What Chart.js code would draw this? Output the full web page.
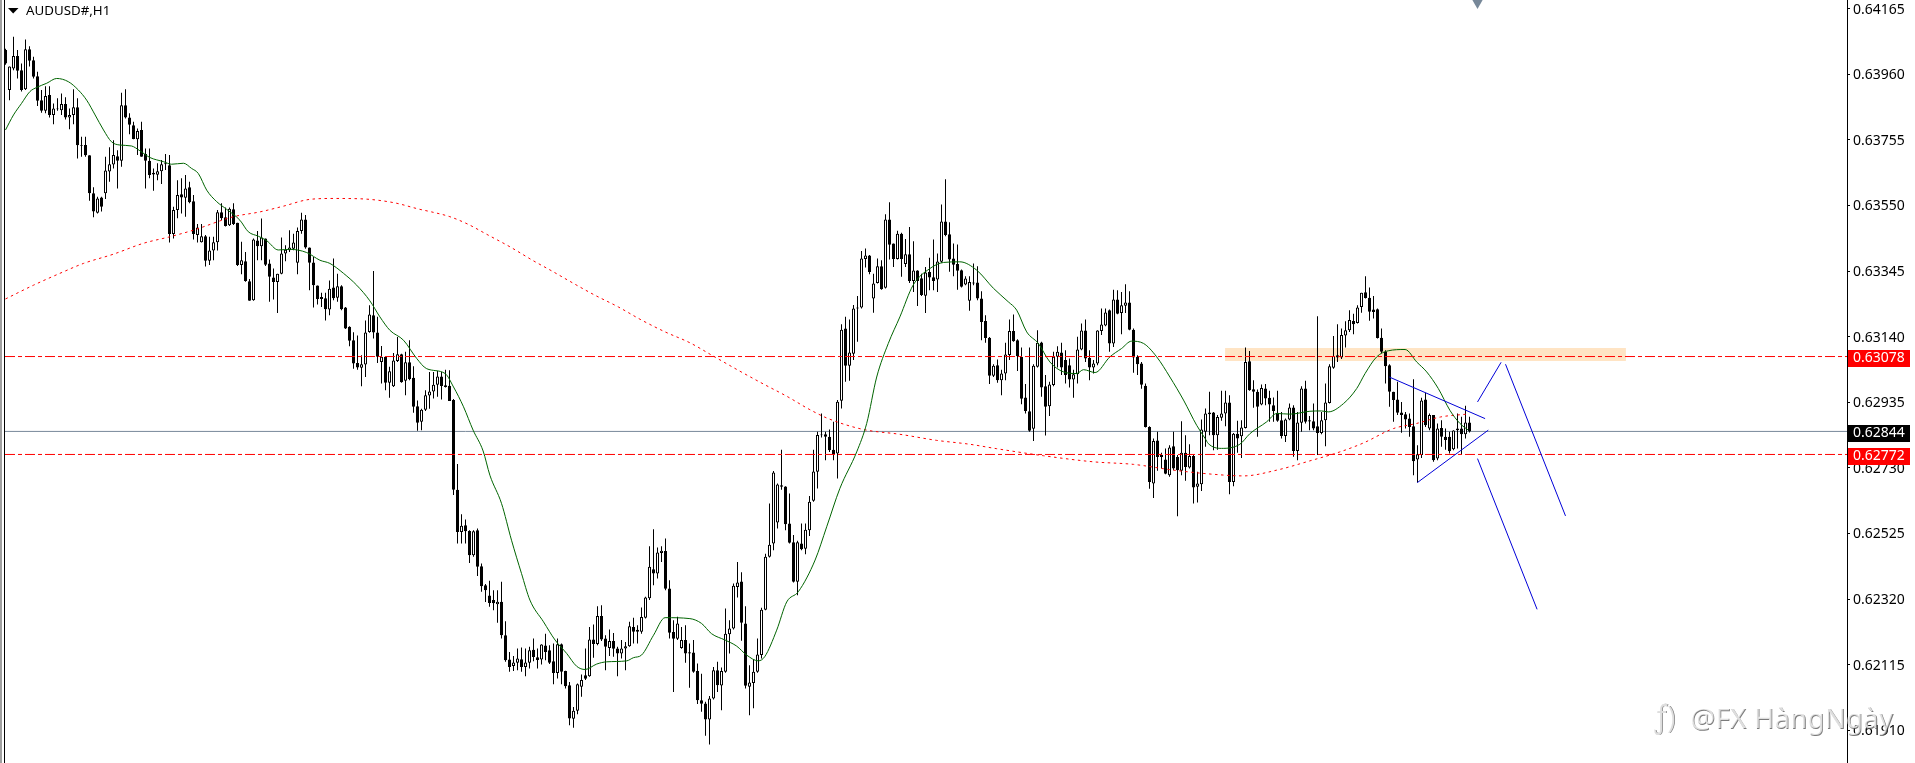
<!DOCTYPE html>
<html><head><meta charset="utf-8">
<style>html,body{margin:0;padding:0;background:#fff;overflow:hidden}canvas{display:block}</style>
<script src="https://cdn.jsdelivr.net/npm/chart.js@4/dist/chart.umd.min.js"></script>
</head><body><canvas id="c" width="1915" height="763" style="width:1915px;height:763px"></canvas>
<script>
// All prices in points (1 point = 0.00001)
const opens=[64036,63911,63978,64017,63973,63913,64038,64004,63954,63879,
63846,63895,63833,63851,63848,63867,63825,63833,63857,63739,
63739,63707,63588,63527,63575,63588,63656,63678,63704,63690,
63863,63825,63801,63757,63786,63711,63690,63652,63646,63657,
63679,63676,63461,63536,63585,63574,63607,63563,63458,63435,
63454,63377,63409,63435,63529,63513,63488,63538,63496,63364,
63376,63313,63254,63441,63423,63447,63369,63325,63311,63337,
63400,63410,63415,63371,63470,63506,63419,63372,63300,63264,
63260,63225,63294,63262,63298,63231,63171,63129,63058,63043,
63053,63155,63207,63153,63061,63077,62996,62985,63064,63085,
63002,63060,63012,62923,62874,62912,62956,62969,62990,63016,
62988,62987,62942,62662,62530,62551,62533,62457,62535,62423,
62363,62331,62317,62304,62312,62207,62131,62111,62121,62132,
62108,62121,62162,62138,62131,62175,62160,62126,62089,62179,
62095,62051,61946,61971,62046,62082,62079,62194,62180,62267,
62197,62167,62189,62166,62150,62166,62173,62233,62224,62218,
62262,62323,62413,62400,62464,62470,62353,62217,62196,62167,
62192,62154,62153,62095,62004,61994,61944,62009,62098,62050,
62093,62210,62228,62358,62375,62244,62046,62058,62093,62145,
62287,62452,62494,62559,62676,62672,62556,62498,62374,62494,
62477,62535,62627,62718,62834,62835,62827,62787,62775,62940,
63166,63049,63087,63228,63231,63383,63394,63259,63308,63360,
63293,63506,63431,63383,63462,63367,63398,63314,63347,63323,
63268,63342,63326,63319,63374,63500,63460,63384,63367,63348,
63303,63252,63309,63309,63259,63189,63137,63018,63051,63004,
63025,63083,63158,63129,63077,62950,62907,62852,63046,63122,
62985,62923,62989,63077,63091,63067,63051,63006,63023,63100,
63159,63074,63044,63056,63158,63175,63223,63119,63256,63214,
63237,63247,63162,63077,63056,62987,62858,62681,62816,62771,
62756,62707,62798,62764,62721,62777,62731,62767,62671,62679,
62843,62903,62903,62832,62887,62900,62934,62686,62837,62829,
62855,63063,62976,62968,62928,62978,62949,62926,62902,62879,
62830,62881,62919,62783,62871,62978,62879,62876,62860,62839,
62879,62933,63043,63082,63075,63144,63160,63189,63183,63233,
63279,63262,63225,63226,63137,63093,63051,62968,62944,62903,
62898,62884,62860,62756,62770,62944,62853,62895,62759,62855,
62827,62827,62788,62853,62853,62835,62872];
const closes=[63994,63984,64017,63971,63911,64038,64002,63952,63877,63846,
63892,63833,63853,63853,63867,63825,63833,63857,63738,63737,
63707,63588,63531,63572,63546,63659,63679,63708,63690,63863,
63825,63802,63758,63783,63702,63690,63645,63647,63657,63679,
63682,63461,63536,63583,63575,63603,63560,63461,63481,63454,
63377,63409,63435,63529,63510,63486,63540,63492,63364,63379,
63314,63252,63444,63423,63450,63365,63327,63311,63337,63400,
63412,63419,63434,63470,63506,63419,63371,63301,63258,63258,
63226,63290,63260,63298,63226,63166,63127,63056,63044,63054,
63153,63209,63153,63077,63077,62996,63032,63066,63085,62998,
63060,63007,62921,62871,62912,62957,62969,62990,63016,62986,
62983,62939,62662,62530,62549,62532,62457,62532,62421,62360,
62348,62308,62307,62312,62207,62129,62108,62122,62134,62108,
62122,62160,62139,62130,62178,62155,62121,62089,62179,62093,
62048,61947,61971,62054,62067,62071,62194,62180,62267,62194,
62171,62189,62165,62150,62166,62173,62235,62218,62218,62264,
62325,62421,62400,62466,62471,62352,62215,62196,62244,62192,
62150,62150,62093,62004,61993,61944,62009,62098,62051,62095,
62212,62228,62362,62372,62246,62049,62059,62093,62147,62287,
62452,62490,62716,62678,62671,62554,62496,62374,62498,62476,
62537,62624,62719,62833,62832,62827,62785,62773,62937,63162,
63049,63091,63228,63231,63384,63394,63342,63306,63360,63288,
63506,63427,63383,63462,63383,63398,63314,63347,63314,63270,
63341,63325,63314,63375,63500,63458,63381,63365,63346,63296,
63322,63311,63306,63259,63186,63136,63018,63049,63004,63025,
63084,63158,63126,63079,62946,62908,62846,63049,63121,62981,
62921,62991,63077,63093,63044,63020,63006,63023,63100,63159,
63072,63044,63056,63159,63178,63216,63119,63256,63212,63238,
63247,63162,63075,63054,62990,62858,62686,62814,62764,62764,
62712,62794,62728,62723,62777,62733,62767,62669,62681,62850,
62900,62898,62832,62889,62900,62934,62686,62837,62822,62856,
63061,62973,62968,62921,62980,62947,62928,62908,62877,62830,
62881,62919,62783,62872,62978,62874,62875,62853,62839,62879,
62934,63048,63080,63075,63145,63160,63192,63179,63231,63277,
63261,63218,63217,63136,63093,63048,62968,62942,62902,62895,
62881,62858,62751,62773,62941,62863,62895,62754,62853,62827,
62817,62782,62847,62848,62835,62872,62844];
const highs=[64040,63984,64077,64036,63994,64069,64048,64015,63968,63911,
63923,63923,63869,63885,63900,63888,63853,63913,63885,63765,
63765,63707,63607,63577,63577,63702,63732,63754,63723,63902,
63913,63838,63812,63791,63812,63728,63728,63666,63682,63692,
63711,63708,63546,63629,63635,63645,63624,63583,63492,63492,
63458,63452,63452,63536,63557,63544,63544,63557,63496,63437,
63405,63320,63447,63470,63509,63447,63381,63353,63337,63450,
63426,63473,63462,63481,63527,63520,63419,63389,63300,63277,
63277,63316,63384,63337,63301,63233,63173,63154,63144,63082,
63191,63238,63345,63202,63111,63077,63046,63089,63139,63087,
63093,63129,63048,62941,62915,62973,63030,63030,63033,63030,
63037,63035,62945,62742,62585,62569,62535,62535,62541,62431,
62367,62377,62348,62348,62374,62251,62155,62142,62166,62169,
62166,62171,62197,62166,62179,62212,62176,62181,62197,62181,
62096,62061,61983,62056,62084,62166,62233,62241,62298,62301,
62207,62225,62214,62171,62192,62186,62249,62262,62238,62294,
62327,62485,62538,62481,62485,62509,62379,62254,62265,62233,
62238,62181,62192,62119,62087,61999,62017,62108,62124,62106,
62291,62254,62369,62436,62404,62298,62113,62131,62197,62293,
62462,62619,62720,62681,62787,62673,62650,62520,62502,62556,
62556,62642,62787,62843,62900,62843,62850,62874,62942,63179,
63202,63194,63239,63267,63408,63416,63395,63337,63384,63379,
63523,63560,63431,63471,63465,63445,63483,63438,63348,63337,
63358,63387,63444,63400,63553,63632,63498,63431,63428,63350,
63329,63329,63369,63360,63282,63207,63139,63054,63069,63037,
63121,63194,63209,63132,63106,62992,63106,63054,63160,63124,
63020,62999,63093,63110,63121,63098,63072,63037,63140,63181,
63194,63098,63067,63160,63228,63228,63225,63287,63285,63280,
63304,63282,63166,63082,63061,62994,62860,62822,62843,62777,
62791,62801,62843,62770,62876,62832,62804,62770,62718,62881,
62916,62968,62905,62895,62971,62971,62957,62839,62877,62879,
63106,63095,63004,62975,62991,62992,62971,62950,62971,62905,
62884,62931,62926,62905,62985,63002,62892,62931,63204,62905,
62994,63054,63142,63179,63166,63188,63223,63212,63238,63277,
63329,63294,63267,63228,63166,63098,63054,62968,62999,62936,
62905,62900,63007,62801,62949,62965,62900,62895,62869,62879,
62853,62843,62848,62900,62890,62924,62890];
const lows=[63990,63879,63973,63947,63906,63911,63984,63947,63861,63840,
63838,63825,63804,63846,63833,63819,63788,63804,63697,63702,
63702,63565,63513,63525,63531,63570,63624,63666,63603,63671,
63822,63773,63757,63708,63702,63603,63635,63596,63629,63617,
63661,63434,63447,63510,63525,63515,63557,63444,63434,63434,
63359,63364,63379,63409,63504,63484,63486,63489,63361,63335,
63312,63252,63252,63379,63379,63361,63249,63256,63214,63335,
63376,63405,63410,63335,63462,63415,63285,63231,63241,63233,
63191,63207,63254,63249,63223,63164,63110,63040,63037,62985,
63014,63152,63134,63058,62994,62973,62949,62983,63061,62996,
62957,63004,62902,62846,62848,62908,62915,62947,62952,62944,
62981,62939,62645,62494,62494,62494,62433,62452,62392,62343,
62311,62296,62285,62246,62197,62124,62093,62095,62098,62093,
62079,62103,62126,62103,62116,62129,62117,62054,62072,62054,
62041,61926,61918,61960,62015,62067,62077,62137,62176,62189,
62098,62142,62140,62079,62134,62098,62171,62181,62181,62212,
62259,62317,62363,62384,62436,62348,62197,62030,62192,62165,
62121,62043,62090,61992,61968,61893,61866,62006,62030,61973,
62090,62150,62225,62325,62190,62041,61957,61979,62090,62134,
62285,62450,62473,62541,62662,62535,62494,62372,62332,62473,
62460,62517,62624,62666,62825,62754,62780,62754,62697,62916,
62999,63002,63067,63124,63228,63356,63335,63215,63306,63287,
63291,63381,63358,63381,63327,63358,63308,63280,63236,63267,
63214,63285,63285,63280,63371,63454,63343,63329,63287,63294,
63301,63221,63301,63254,63129,63121,62992,63014,62996,62957,
63004,63067,63124,63033,62929,62900,62843,62814,63044,62952,
62831,62892,62985,63044,63020,62994,62981,62949,62994,63098,
63061,63004,63025,63051,63145,63173,63093,63108,63210,63148,
63214,63160,63027,63020,62977,62856,62665,62636,62721,62728,
62710,62702,62723,62579,62707,62690,62728,62619,62622,62658,
62796,62832,62785,62787,62877,62860,62648,62673,62777,62761,
62853,62971,62918,62827,62926,62926,62874,62874,62874,62822,
62811,62879,62765,62754,62843,62869,62848,62848,62770,62835,
62798,62931,63040,63061,63070,63106,63155,63148,63181,63215,
63259,63190,63197,63134,63089,62994,62921,62874,62895,62840,
62853,62827,62707,62684,62761,62858,62848,62749,62754,62796,
62787,62775,62785,62791,62770,62822,62841];

const fastMaBars=[0,2,4,6.1,7.8,10.3,12.8,15.7,18.2,20.3,22.4,24.5,26.5,28.6,31.5,33.6,36.1,39.5,41.5,44.5,46.5,48.2,50.3,52.8,55.3,58.6,60.7,63.2,65.3,68.2,71.1,75.3,78.6,81.1,84.5,87.8,91.1,93.6,96.1,99.5,102.8,105.3,109.9,112,114.5,116.9,119.4,121.1,124,126.5,129,131.1,134.5,137.4,140.3,142.8,144.9,147.8,150.3,155.3,157,159,162,164.9,171.1,174,176.5,179.9,182.8,185.3,188.2,189.8,192.8,195.3,198.2,202.4,205.3,208.6,212.8,215.3,217.8,220.7,223.6,226.9,231.1,234.5,238.6,242.8,247,250.7,252.8,255.3,258.2,261.1,264.5,267.8,269.5,272.4,276.1,279,281.5,284.5,287.8,291.1,294.5,297.8,299.9,300.7,304,308.6,311.1,315.3,317.8,321.1,326.1,329,330.7,334.5,337.8,339.9,342.8,345.7,349.9,352.8,355.3,358.2,361.1,363.6,365.7];
const fastMa=[63786,63833,63869,63906,63919,63932,63947,63937,63911,63879,63833,63786,63749,63739,63736,63721,63700,63687,63679,63682,63666,63650,63598,63562,63538,63504,63468,63454,63440,63411,63413,63403,63379,63369,63338,63301,63252,63202,63160,63129,63072,63040,63025,62983,62921,62848,62783,62707,62619,62504,62400,62317,62249,62192,62150,62110,62100,62117,62124,62127,62137,62145,62207,62262,62259,62244,62212,62192,62173,62145,62127,62140,62223,62311,62343,62442,62546,62666,62780,62869,63014,63119,63202,63301,63353,63372,63374,63348,63291,63249,63223,63155,63119,63061,63030,63025,63037,63028,63077,63103,63126,63119,63077,63014,62942,62863,62822,62806,62791,62804,62837,62874,62900,62898,62907,62908,62905,62931,62978,63025,63077,63096,63100,63061,63030,62978,62910,62869,62848];
const slowMaBars=[0,7,13.6,19.5,27,34.5,41,47,57,63.6,69.5,76,82,88.6,97,103.6,106.5,111.1,115.7,120.3,126.1,132,136.5,141.1,147,153.2,159,164.9,171.1,177,183.2,189.5,195.3,201.1,205.7,214.5,223.6,232.8,241,247.8,259.5,272,282,292,302,309.5,317.8,326.1,333.6,339.5,347,352.8,358.7,365.3];
const slowMa=[63258,63301,63338,63369,63398,63432,63452,63473,63515,63530,63548,63569,63572,63571,63559,63538,63530,63515,63491,63460,63421,63377,63346,63313,63272,63233,63192,63155,63121,63079,63035,62992,62954,62912,62884,62850,62835,62816,62804,62790,62768,62749,62741,62723,62710,62705,62723,62752,62780,62808,62853,62869,62889,62898];

const levelHigh=63078, levelLow=62772, lastPrice=62844;
const tickPoints=[64165,63960,63755,63550,63345,63140,62935,62730,62525,62320,62115,61910];
const zoneBars=[304.9,405.1], zonePrice=63084;
const trendLines=[
 {bars:[345.95,369.9],prices:[63014,62884]},
 {bars:[352.95,370.7],prices:[62684,62848]},
 {bars:[368,373.9],prices:[62936,63060]},
 {bars:[375,390],prices:[63054,62580]},
 {bars:[368,382.9],prices:[62759,62288]}
];
const markerBar=368, markerPrice=64191;
const symbolTitle='AUDUSD#,H1', watermark='@FX HàngNgày';

const P=v=>v/1e5;
const pts=(xs,ys)=>xs.map((x,i)=>({x,y:P(ys[i])}));
const X0=-0.125,X1=460.375;
const hline=(v,color,dash,order)=>({type:'line',data:[{x:X0,y:P(v)},{x:X1,y:P(v)}],borderColor:color,borderWidth:1,borderDash:dash,pointRadius:0,order});

const overlay={id:'overlay',afterDraw(chart){
  const c=chart.ctx,y=chart.scales.y;
  c.save();
  // left window frame
  c.fillStyle='#a0a0a0';c.fillRect(0,0,2,763);
  c.fillStyle='#000';c.fillRect(4,0,1,763);
  // symbol header
  c.beginPath();c.moveTo(8,8);c.lineTo(18.5,8);c.lineTo(13.2,13.5);c.closePath();c.fill();
  c.font='13.3px "Noto Sans"';c.textBaseline='middle';c.textAlign='left';c.fillStyle='#000';
  c.fillText(symbolTitle,26,11);
  // price tags
  c.font='14px "Noto Sans"';
  [[levelHigh,'#ff0000'],[lastPrice,'#000000'],[levelLow,'#ff0000']].forEach(([v,bg])=>{
    const py=Math.floor(y.getPixelForValue(P(v)));
    c.fillStyle=bg;c.fillRect(1848,py-6,62,17);
    c.fillStyle='#fff';c.fillText(P(v).toFixed(5),1853,py+2.5);
  });
  // embossed watermark
  c.font='28px "Noto Sans"';
  c.fillStyle='rgba(90,90,90,0.8)';c.fillText(watermark,1690.8,720.8);
  c.fillStyle='rgba(255,255,255,0.75)';c.fillText(watermark,1690,720);
  c.font='30px "Noto Sans"';
  c.fillStyle='rgba(90,90,90,0.8)';c.fillText('ƒ)',1654.8,719.8);
  c.fillStyle='rgba(255,255,255,0.75)';c.fillText('ƒ)',1654,719);
  c.restore();
}};

new Chart(document.getElementById('c'),{
  type:'bar',
  data:{datasets:[
    {type:'line',data:[{x:zoneBars[0],y:P(zonePrice)},{x:zoneBars[1],y:P(zonePrice)}],borderColor:'#ffe4c4',borderWidth:13,pointRadius:0,order:9},
    hline(lastPrice,'#778899',[],8),
    {type:'bar',data:highs.map((h,i)=>({x:i,y:[P(lows[i]),P(h)]})),backgroundColor:'#000',borderWidth:0,barThickness:1,inflateAmount:0,grouped:false,order:6},
    {type:'bar',data:opens.map((o,i)=>({x:i,y:[P(o),P(closes[i])]})),backgroundColor:opens.map((o,i)=>closes[i]>=o?'#fff':'#000'),borderColor:'#000',borderWidth:1,borderSkipped:false,barThickness:3,inflateAmount:0,grouped:false,order:5},
    {type:'line',data:pts(slowMaBars,slowMa),borderColor:'#ff0000',borderWidth:1,borderDash:[2.5,3.5],pointRadius:0,cubicInterpolationMode:'monotone',order:4},
    {type:'line',data:pts(fastMaBars,fastMa),borderColor:'#006400',borderWidth:1,pointRadius:0,cubicInterpolationMode:'monotone',order:3},
    hline(levelHigh,'#ff0000',[10,3,4,3],2),
    hline(levelLow,'#ff0000',[10,3,4,3],2),
    ...trendLines.map(t=>({type:'line',data:pts(t.bars,t.prices),borderColor:'#0000d8',borderWidth:1,pointRadius:0,order:1})),
    {type:'line',data:[{x:markerBar,y:P(markerPrice)}],showLine:false,pointStyle:'triangle',rotation:180,pointRadius:8.5,pointBackgroundColor:'#778899',pointBorderWidth:0,order:0}
  ]},
  options:{
    responsive:false,animation:false,devicePixelRatio:1,
    layout:{autoPadding:false,padding:{left:5,top:0,right:0,bottom:0}},
    plugins:{legend:{display:false},tooltip:{enabled:false},title:{display:false}},
    scales:{
      x:{type:'linear',display:false,min:X0,max:X1,offset:false},
      y:{type:'linear',position:'right',min:P(61807.8),max:P(64192.2),
        afterFit(s){s.width=68;s.paddingTop=0;s.paddingBottom=0;},
        afterBuildTicks(s){s.ticks=tickPoints.map(v=>({value:P(v)}));},
        border:{display:true,color:'#000',width:1},
        grid:{drawOnChartArea:false,drawTicks:true,tickLength:3,color:'#000'},
        ticks:{color:'#000',padding:3,labelOffset:1,font:{family:'"Noto Sans"',size:14},autoSkip:false,maxRotation:0,callback:v=>Number(v).toFixed(5)}
      }
    }
  },
  plugins:[overlay]
});
</script></body></html>
